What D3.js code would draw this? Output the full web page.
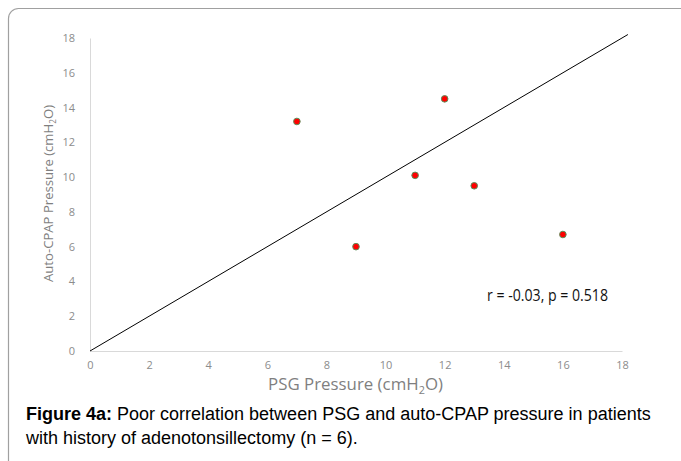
<!DOCTYPE html>
<html><head><meta charset="utf-8">
<script src="https://cdn.jsdelivr.net/npm/d3@7"></script>
<style>body{margin:0;background:#fff;}svg{display:block;}</style>
</head><body>
<script>
const psg = [7, 9, 11, 12, 13, 16];
const autoCpap = [13.2, 6.0, 10.1, 14.5, 9.5, 6.7];
const ticks = [0, 2, 4, 6, 8, 10, 12, 14, 16, 18];
const identityLine = [0, 18.2];
const statText = "r = -0.03, p = 0.518";

const W = 681, H = 461;
const svg = d3.select("body").append("svg").attr("width", W).attr("height", H);

svg.append("rect").attr("x", 8.5).attr("y", 8.5).attr("width", 700).attr("height", 480)
  .attr("rx", 10).attr("fill", "#fff").attr("stroke", "#a0a0a0").attr("stroke-width", 1.2);

const x = d3.scaleLinear().domain([0, 18]).range([90, 622]);
const y = d3.scaleLinear().domain([0, 18]).range([351, 38]);

// axes
const xa = svg.append("g").attr("transform", `translate(0,${y(0)})`)
  .call(d3.axisBottom(x).tickValues(ticks).tickSize(0).tickPadding(10));
const ya = svg.append("g").attr("transform", `translate(${x(0)},0)`)
  .call(d3.axisLeft(y).tickValues(ticks).tickSize(0).tickPadding(15));
[xa, ya].forEach(a => {
  a.select(".domain").attr("stroke", "#d9d9d9").attr("stroke-width", 1);
  a.selectAll("text").attr("fill", "#8c8c8c").attr("font-family", "Open Sans, sans-serif").attr("font-size", 11);
});

// identity line
svg.append("line")
  .attr("x1", x(identityLine[0])).attr("y1", y(identityLine[0]))
  .attr("x2", x(identityLine[1])).attr("y2", y(identityLine[1]))
  .attr("stroke", "#000").attr("stroke-width", 1);

// points
svg.selectAll("circle.pt").data(psg.map((v, i) => [v, autoCpap[i]])).enter()
  .append("circle").attr("class", "pt")
  .attr("cx", d => x(d[0])).attr("cy", d => y(d[1])).attr("r", 3.3)
  .attr("fill", "#ff0000").attr("stroke", "#5a8f5a").attr("stroke-width", 1);

// stat text
svg.append("text").attr("x", 487).attr("y", 301).text(statText)
  .attr("font-family", "Open Sans, sans-serif").attr("font-size", 16).attr("fill", "#111")
  .attr("textLength", 121).attr("lengthAdjust", "spacingAndGlyphs");

// x title
const xt = svg.append("text").attr("x", 268).attr("y", 390)
  .attr("font-family", "Open Sans, sans-serif").attr("font-size", 15.5).attr("fill", "#7f7f7f")
  .attr("textLength", 175).attr("lengthAdjust", "spacingAndGlyphs");
xt.append("tspan").text("PSG Pressure (cmH");
xt.append("tspan").text("2").attr("font-size", 10).attr("dy", 4);
xt.append("tspan").text("O)").attr("dy", -4);

// y title
const yt = svg.append("text").attr("transform", `translate(53,282) rotate(-90)`)
  .attr("font-family", "Open Sans, sans-serif").attr("font-size", 13.5).attr("fill", "#7f7f7f")
  .attr("textLength", 177).attr("lengthAdjust", "spacingAndGlyphs");
yt.append("tspan").text("Auto-CPAP Pressure (cmH");
yt.append("tspan").text("2").attr("font-size", 8.5).attr("dy", 3);
yt.append("tspan").text("O)").attr("dy", -3);

// caption
const cap = svg.append("text").attr("font-family", "Liberation Sans, Arial, sans-serif").attr("font-size", 18).attr("fill", "#000");
cap.append("tspan").attr("x", 26).attr("y", 420).attr("font-weight", "bold").text("Figure 4a:");
cap.append("tspan").text(" Poor correlation between PSG and auto-CPAP pressure in patients");
cap.append("tspan").attr("x", 26).attr("y", 444).text("with history of adenotonsillectomy (n = 6).");
</script>
</body></html>
